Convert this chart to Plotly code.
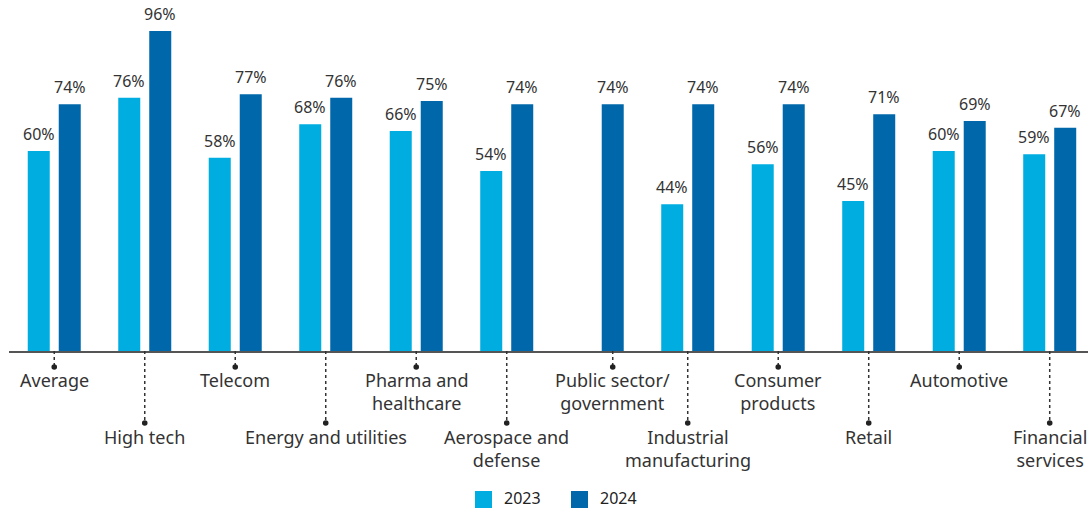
import plotly.graph_objects as go

categories = ["Average", "High tech", "Telecom", "Energy and utilities",
              "Pharma and<br>healthcare", "Aerospace and<br>defense",
              "Public sector/<br>government", "Industrial<br>manufacturing",
              "Consumer<br>products", "Retail", "Automotive", "Financial<br>services"]
v2023 = [60, 76, 58, 68, 66, 54, None, 44, 56, 45, 60, 59]
v2024 = [74, 96, 77, 76, 75, 74, 74, 74, 74, 71, 69, 67]
series_names = ["2023", "2024"]

C23 = "#00ADE1"
C24 = "#0067AB"
TXT = "#333333"
FONT = "Noto Sans, Open Sans, sans-serif"

W, H = 1088, 509
PLOT_L, PLOT_R, PLOT_T, PLOT_B = 9, 1088, 0, 351   # px of plot area
ML, MR, MT, MB = PLOT_L, W - PLOT_R, PLOT_T, H - PLOT_B
PW = PLOT_R - PLOT_L
PH = PLOT_B - PLOT_T
XMIN, XMAX = -0.5, 11.423
YMAX = 105.3
BARGAP, GROUPGAP = 0.315, 0.29


def px2x(px):
    return (px - PLOT_L) / PW


def px2y(py):
    return (PLOT_B - py) / PH


def idx2paper(v):
    return (v - XMIN) / (XMAX - XMIN)


xs = list(range(len(categories)))
slot = (1 - BARGAP) / 2
half = slot / 2

fig = go.Figure()
annotations = []
for k, (name, vals, col) in enumerate([(series_names[0], v2023, C23), (series_names[1], v2024, C24)]):
    fig.add_trace(go.Bar(
        x=xs, y=vals, name=name, marker_color=col, marker_line_width=0,
        showlegend=False, hoverinfo="skip"))
    sign = -1 if k == 0 else 1
    for i, v in enumerate(vals):
        if v is None:
            continue
        annotations.append(dict(text=f"{v}%", x=i + sign * half, y=v, xref="x", yref="y",
                                xanchor="center", yanchor="bottom", yshift=4, showarrow=False,
                                font=dict(family=FONT, size=16, color=TXT)))

shapes = []
base_y = px2y(PLOT_B)
for i, cat in enumerate(categories):
    cx = i
    if v2023[i] is None:
        cx = i + half
    xp = idx2paper(cx)
    far = (i % 2 == 1)
    dot_py = 423 if far else 367
    text_py = 423 if far else 366
    dy = px2y(dot_py)
    shapes.append(dict(type="line", xref="paper", yref="paper", x0=xp, x1=xp,
                       y0=base_y, y1=dy, line=dict(color="#333333", width=1.5, dash="dot")))
    r = 2.8
    shapes.append(dict(type="circle", xref="paper", yref="paper",
                       x0=xp - r / PW, x1=xp + r / PW, y0=dy - r / PH, y1=dy + r / PH,
                       fillcolor="#222222", line=dict(width=0)))
    annotations.append(dict(text=cat, xref="paper", yref="paper", x=xp, y=px2y(text_py),
                            xanchor="center", yanchor="top", showarrow=False,
                            font=dict(family=FONT, size=18, color=TXT)))

# manual legend
for name, col, sq_x in [(series_names[0], C23, 475), (series_names[1], C24, 571)]:
    shapes.append(dict(type="rect", xref="paper", yref="paper",
                       x0=px2x(sq_x), x1=px2x(sq_x + 17), y0=px2y(491), y1=px2y(508),
                       fillcolor=col, line=dict(width=0)))
    annotations.append(dict(text=name, xref="paper", yref="paper", x=px2x(sq_x + 27),
                            y=px2y(498), xanchor="left", yanchor="middle", showarrow=False,
                            font=dict(family=FONT, size=16, color="#222222")))

fig.update_layout(
    width=W, height=H, margin=dict(l=ML, r=MR, t=MT, b=MB, pad=0),
    barmode="group", bargap=BARGAP, bargroupgap=GROUPGAP,
    plot_bgcolor="white", paper_bgcolor="white",
    xaxis=dict(range=[XMIN, XMAX], showticklabels=False, ticks="", showgrid=False,
               zeroline=False, showline=True, linecolor="#555555", linewidth=1.5),
    yaxis=dict(range=[0, YMAX], visible=False, showgrid=False, zeroline=False),
    shapes=shapes, annotations=annotations,
)

fig.write_html(
    "out.html",
    config={"displayModeBar": False},
    post_script="document.body.style.margin='0px';document.body.style.overflow='hidden';",
)
